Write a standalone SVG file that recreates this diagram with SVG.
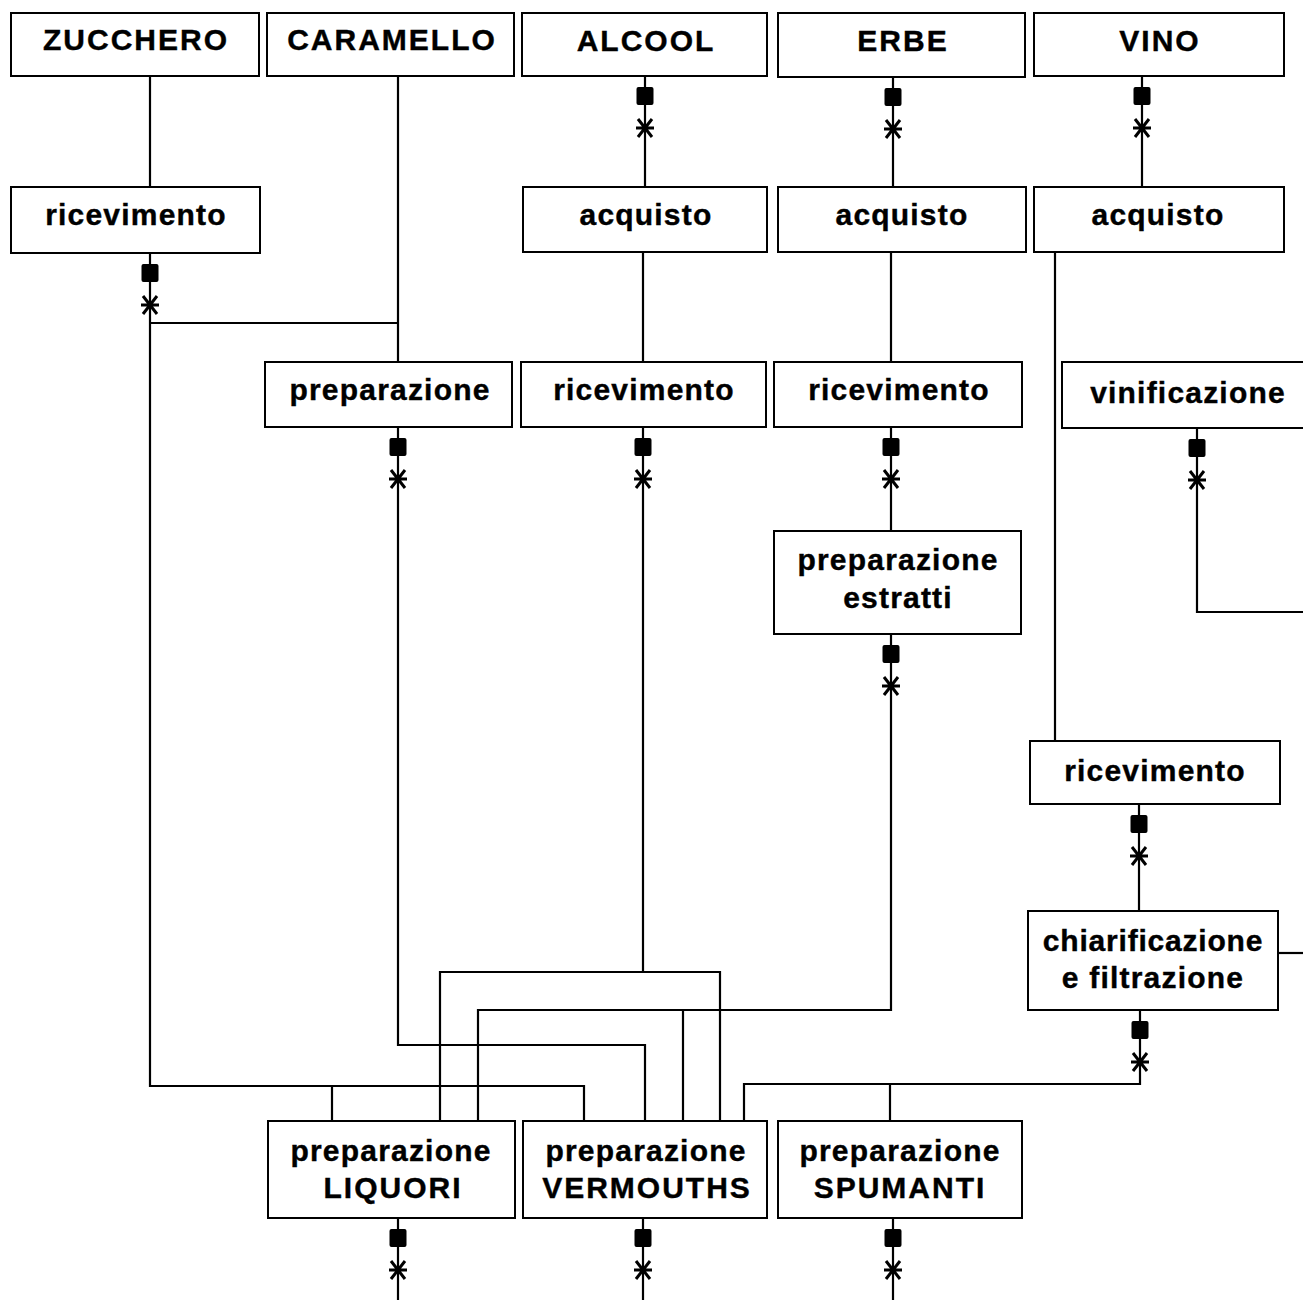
<svg xmlns="http://www.w3.org/2000/svg" xmlns:xlink="http://www.w3.org/1999/xlink" width="1303" height="1300" viewBox="0 0 1303 1300">
<style>
.box{fill:#fff;stroke:#000;stroke-width:2}
.t{font-family:"Liberation Sans",Arial,sans-serif;font-weight:bold;font-size:30px;fill:#000;stroke:#000;stroke-width:0.4;text-anchor:middle;letter-spacing:1.2px}
.c{letter-spacing:2px}
.s{letter-spacing:0.8px}
.ln{fill:none;stroke:#000;stroke-width:2.2}
</style>
<defs>
<g id="m">
<rect x="-8.5" y="11" width="17" height="18" rx="2" fill="#000" stroke="none"/>
<path d="M-9 52H9M-7 43L7 61M-7 61L7 43" stroke="#000" stroke-width="3" fill="none"/>
</g>
</defs>
<rect width="1303" height="1300" fill="#fff"/>
<g id="connectors" class="ln">
<path d="M150 76V187"/>
<path d="M150 253V1086H584V1121M150 323H398M332 1086V1121"/>
<path d="M398 76V362"/>
<path d="M398 427V1045H645V1121"/>
<path d="M645 76V187M643 252V362"/>
<path d="M643 427V972M440 1121V972H720V1121"/>
<path d="M893 77V187M891 252V362M891 427V531"/>
<path d="M891 634V1010H478V1121M683 1010V1121"/>
<path d="M1142 76V187M1055 252V741"/>
<path d="M1139 804V911"/>
<path d="M1140 1010V1084H744V1121M890 1084V1121"/>
<path d="M1197 428V612H1303"/>
<path d="M1278 953H1303"/>
<path d="M398 1218V1300M643 1218V1300M893 1218V1300"/>
<use href="#m" x="645" y="76"/>
<use href="#m" x="893" y="77"/>
<use href="#m" x="1142" y="76"/>
<use href="#m" x="150" y="253"/>
<use href="#m" x="398" y="427"/>
<use href="#m" x="643" y="427"/>
<use href="#m" x="891" y="427"/>
<use href="#m" x="1197" y="428"/>
<use href="#m" x="891" y="634"/>
<use href="#m" x="1139" y="804"/>
<use href="#m" x="1140" y="1010"/>
<use href="#m" x="398" y="1218"/>
<use href="#m" x="643" y="1218"/>
<use href="#m" x="893" y="1218"/>
</g>
<g id="zucchero"><rect class="box" x="11" y="13" width="248" height="63"/><text class="t c" x="136" y="50">ZUCCHERO</text></g>
<g id="caramello"><rect class="box" x="267" y="13" width="247" height="63"/><text class="t c" x="392" y="50">CARAMELLO</text></g>
<g id="alcool"><rect class="box" x="522" y="13" width="245" height="63"/><text class="t c" x="646" y="51">ALCOOL</text></g>
<g id="erbe"><rect class="box" x="778" y="13" width="247" height="64"/><text class="t c" x="903" y="51">ERBE</text></g>
<g id="vino"><rect class="box" x="1034" y="13" width="250" height="63"/><text class="t c" x="1160" y="51">VINO</text></g>
<g id="ricevimento-zucchero"><rect class="box" x="11" y="187" width="249" height="66"/><text class="t" x="136" y="225">ricevimento</text></g>
<g id="acquisto-alcool"><rect class="box" x="523" y="187" width="244" height="65"/><text class="t" x="646" y="225">acquisto</text></g>
<g id="acquisto-erbe"><rect class="box" x="778" y="187" width="248" height="65"/><text class="t" x="902" y="225">acquisto</text></g>
<g id="acquisto-vino"><rect class="box" x="1034" y="187" width="250" height="65"/><text class="t" x="1158" y="225">acquisto</text></g>
<g id="preparazione-caramello"><rect class="box" x="265" y="362" width="247" height="65"/><text class="t" x="390" y="400">preparazione</text></g>
<g id="ricevimento-alcool"><rect class="box" x="521" y="362" width="245" height="65"/><text class="t" x="644" y="400">ricevimento</text></g>
<g id="ricevimento-erbe"><rect class="box" x="774" y="362" width="248" height="65"/><text class="t" x="899" y="400">ricevimento</text></g>
<g id="vinificazione"><rect class="box" x="1062" y="362" width="260" height="66"/><text class="t" x="1188" y="403">vinificazione</text></g>
<g id="preparazione-estratti"><rect class="box" x="774" y="531" width="247" height="103"/><text class="t" x="898" y="570">preparazione</text><text class="t" x="898" y="608">estratti</text></g>
<g id="ricevimento-vino"><rect class="box" x="1030" y="741" width="250" height="63"/><text class="t" x="1155" y="781">ricevimento</text></g>
<g id="chiarificazione"><rect class="box" x="1028" y="911" width="250" height="99"/><text class="t s" x="1153" y="951">chiarificazione</text><text class="t" x="1153" y="988">e filtrazione</text></g>
<g id="preparazione-liquori"><rect class="box" x="268" y="1121" width="247" height="97"/><text class="t" x="391" y="1161">preparazione</text><text class="t c" x="393" y="1198">LIQUORI</text></g>
<g id="preparazione-vermouths"><rect class="box" x="523" y="1121" width="244" height="97"/><text class="t" x="646" y="1161">preparazione</text><text class="t c" x="647" y="1198">VERMOUTHS</text></g>
<g id="preparazione-spumanti"><rect class="box" x="778" y="1121" width="244" height="97"/><text class="t" x="900" y="1161">preparazione</text><text class="t c" x="900" y="1198">SPUMANTI</text></g>
</svg>
